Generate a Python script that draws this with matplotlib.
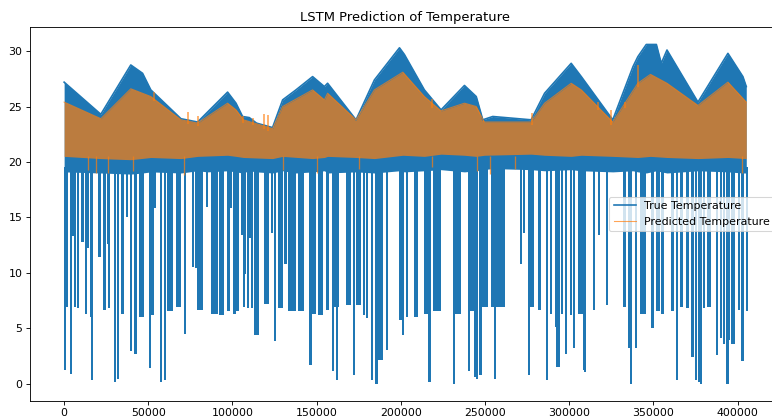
import matplotlib.pyplot as plt

# upper edge of the true temperature band (sample index, deg)
true_x = [0, 21800, 39600, 46600, 51500, 69400, 79300, 85200, 97100, 102100, 106000,
          110000, 114300, 123800, 129800, 137700, 147600, 154600, 156500, 173400, 184300,
          199200, 202100, 214000, 223900, 237800, 244800, 248700, 254600, 277400, 285400,
          301200, 307200, 325900, 337900, 340800, 345800, 351800, 354700, 358100, 376500,
          394300, 403200, 405200]
true_hi = [27.2, 24.3, 28.75, 28.0, 26.5, 23.9, 23.6, 24.5, 26.3, 25.3, 24.1,
           24.0, 23.5, 23.1, 25.6, 26.5, 27.7, 26.8, 27.1, 23.8, 27.4,
           30.3, 29.7, 26.5, 24.7, 26.9, 25.9, 23.8, 24.1, 23.8, 26.2,
           28.9, 27.7, 23.8, 28.6, 29.5, 30.6, 30.6, 28.9, 30.1, 25.4,
           29.8, 27.7, 26.8]
true_lo = [19.1, 19.0, 18.9, 19.0, 19.1, 19.0, 19.2, 19.1, 19.2, 19.1, 19.0,
           19.2, 19.1, 19.0, 19.2, 19.0, 19.1, 19.2, 19.0, 19.1, 19.0,
           19.2, 19.1, 19.2, 19.3, 19.1, 19.2, 19.3, 19.4, 19.3, 19.2,
           19.3, 19.2, 19.1, 19.2, 19.1, 19.0, 19.2, 19.1, 19.0, 19.2,
           19.1, 19.0, 19.0]

# band of the predicted temperature
pred_x = [0, 21800, 39600, 51500, 69400, 79300, 97100, 102100, 106500, 123800, 129800,
          147600, 154600, 156500, 173400, 184300, 201200, 214000, 223900, 237800, 244800,
          249600, 277400, 285400, 301200, 307200, 325900, 340800, 348300, 358100, 376500,
          394300, 405200]
pred_hi = [25.4, 23.9, 26.6, 25.9, 23.8, 23.5, 25.3, 24.7, 23.8, 23.0, 25.0,
           26.5, 25.6, 26.2, 23.8, 26.5, 28.1, 25.9, 24.6, 25.3, 25.0,
           23.6, 23.6, 25.3, 27.1, 26.5, 23.6, 27.1, 27.9, 27.1, 25.1,
           27.2, 25.4]
pred_lo = [20.5, 20.3, 20.2, 20.4, 20.3, 20.5, 20.6, 20.5, 20.4, 20.3, 20.5,
           20.3, 20.4, 20.5, 20.4, 20.3, 20.6, 20.5, 20.7, 20.6, 20.5,
           20.6, 20.7, 20.6, 20.5, 20.6, 20.5, 20.4, 20.5, 20.4, 20.3,
           20.4, 20.3]

# drop-outs of the true series: start index, span, lowest value
dip_x = [0, 500, 3300, 4300, 6000, 7400, 10300, 12500, 13600, 15100, 16100, 20400,
         22800, 25500, 26200, 29500, 31300, 33500, 36500, 39300, 41400, 44400, 50200,
         51300, 53300, 56800, 59200, 61200, 66200, 71000, 76100, 77500, 79100, 84000,
         87000, 92000, 96900, 98600, 100500, 102000, 105000, 106000, 107000, 108400,
         110000, 111000, 113000, 118900, 122900, 124800, 126800, 130800, 132800, 138700,
         145700, 146700, 150600, 155600, 159100, 160500, 161500, 167500, 171400, 173400,
         177400, 179300, 182300, 184900, 186300, 191200, 199200, 200800, 203100, 208100,
         214000, 216400, 219000, 230900, 231900, 239800, 240800, 243200, 244400, 246700,
         247700, 255200, 253700, 270500, 272500, 275500, 276500, 281400, 286400, 288400,
         291300, 292300, 295300, 297300, 300200, 302200, 305200, 308100, 308600, 314100,
         317100, 321600, 331900, 334900, 335900, 338900, 341900, 348800, 351800, 354800,
         360700, 363200, 365600, 369600, 372600, 374600, 376500, 377600, 379600, 381600,
         387400, 389400, 391400, 393400, 394400, 396300, 400300, 402300, 405000]
dip_w = [1300, 1800, 1300, 1300, 1300, 1300, 1500, 1300, 1300, 1300, 1300, 1300,
         2000, 1300, 1300, 1500, 1300, 2200, 1300, 1300, 1800, 3200, 1300,
         2200, 1300, 1300, 1300, 3200, 3200, 1300, 1300, 1300, 3100, 1300,
         4200, 3100, 1500, 1300, 1300, 1600, 1300, 1300, 1300, 1300,
         1300, 1300, 3000, 2600, 1300, 1300, 3000, 1300, 4900, 4000,
         1300, 2900, 3000, 2000, 1300, 3000, 1300, 2900, 1300, 3000,
         1300, 1300, 1300, 1300, 2900, 1300, 1300, 1300, 1300, 2000,
         2000, 1300, 4900, 1300, 3900, 1300, 4000, 1300, 1300, 1300,
         4000, 1300, 7900, 1300, 1300, 1300, 2900, 2000, 1300, 1300,
         1300, 2000, 1300, 1300, 1300, 1300, 2900, 1300, 1300, 1300,
         1300, 1300, 2000, 1300, 1300, 1300, 3900, 1300, 2000, 1300,
         1300, 1300, 2000, 1300, 1300, 1300, 1300, 1300, 1300, 2900,
         1300, 1300, 1300, 1300, 1300, 2000, 1300, 1300, 1300]
dip_low = [1.2, 6.9, 0.9, 13.3, 6.9, 6.8, 12.8, 6.3, 12.2, 6.0, 0.3, 11.4,
           6.6, 12.6, 6.8, 0.15, 0.45, 6.3, 15.0, 2.9, 2.7, 6.0, 1.4,
           6.2, 15.8, 0.15, 0.3, 6.5, 6.9, 4.5, 10.5, 10.4, 6.6, 15.9,
           6.3, 6.2, 6.5, 15.8, 6.3, 6.5, 13.4, 6.9, 9.9, 6.8,
           13.1, 6.8, 4.4, 7.2, 13.6, 3.8, 6.8, 10.8, 6.5, 6.5,
           1.7, 6.3, 6.2, 6.6, 1.1, 6.9, 0.3, 7.1, 0.75, 7.1,
           6.2, 5.9, 0.3, 0.0, 2.1, 3.0, 5.7, 4.4, 6.0, 6.0,
           6.3, 0.15, 6.5, 0.0, 6.3, 1.1, 6.5, 0.6, 0.45, 0.75,
           6.9, 0.45, 6.9, 10.8, 13.6, 0.75, 6.9, 6.6, 0.3, 6.3,
           5.1, 1.5, 6.3, 2.7, 6.2, 3.2, 6.3, 1.2, 1.05, 6.6,
           13.4, 7.1, 6.9, 3.2, 0.0, 3.2, 6.3, 5.0, 6.5, 6.3,
           6.5, 0.3, 6.9, 6.8, 2.4, 0.3, 0.15, 0.0, 6.8, 6.9,
           2.6, 4.1, 3.6, 0.0, 3.9, 3.6, 6.6, 2.0, 6.5]

# isolated spikes of the prediction, up and down
spike_x = [53500, 73300, 79300, 106500, 112000, 118500, 121000, 218800, 278200,
           316900, 325000, 332900, 340700]
spike_lo = [25.5, 23.4, 23.2, 23.5, 23.3, 23.0, 22.8, 24.9, 23.3,
            24.7, 23.3, 24.9, 26.8]
spike_hi = [26.3, 24.5, 24.1, 24.1, 24.0, 24.3, 24.2, 25.7, 24.4,
            25.4, 24.7, 25.4, 28.75]
pdip_x = [14000, 19000, 26000, 41000, 71300, 130000, 150500, 175000, 218800,
          245000, 253000, 268000, 402500]
pdip_lo = [19.3, 19.0, 19.0, 19.2, 18.8, 19.3, 19.0, 19.4, 19.5,
           19.2, 18.9, 19.4, 19.0]

# the reference was drawn at a larger size and scaled down, so use a lower dpi
fig = plt.figure(figsize=(772 / 79, 420 / 79), dpi=79)
ax = fig.add_axes([0.0389, 0.046, 0.9715, 0.889])

blue = 'C0'
orange = 'C1'

# true temperature
ax.fill_between(true_x, true_lo, true_hi, color=blue, lw=0)
ax.bar(dip_x, [19.5 - v for v in dip_low], width=dip_w, bottom=dip_low,
       align='edge', color=blue, lw=0)
ax.plot(true_x, true_hi, color=blue, lw=1.5, label='True Temperature')

# predicted temperature
ax.fill_between(pred_x, pred_lo, pred_hi, color=orange, alpha=0.7, lw=0)
ax.vlines(spike_x, spike_lo, spike_hi, color=orange, alpha=0.7, lw=1.5)
ax.vlines(pdip_x, pdip_lo, 20.5, color=orange, alpha=0.7, lw=1.2)
ax.plot(pred_x, pred_hi, color=orange, alpha=0.7, lw=1.0, label='Predicted Temperature')

ax.set_xlim(-20250, 425250)
ax.set_ylim(-1.55, 32.15)
ax.set_title('LSTM Prediction of Temperature')
ax.legend(loc='center right')

fig.savefig('out.png', dpi=79)
